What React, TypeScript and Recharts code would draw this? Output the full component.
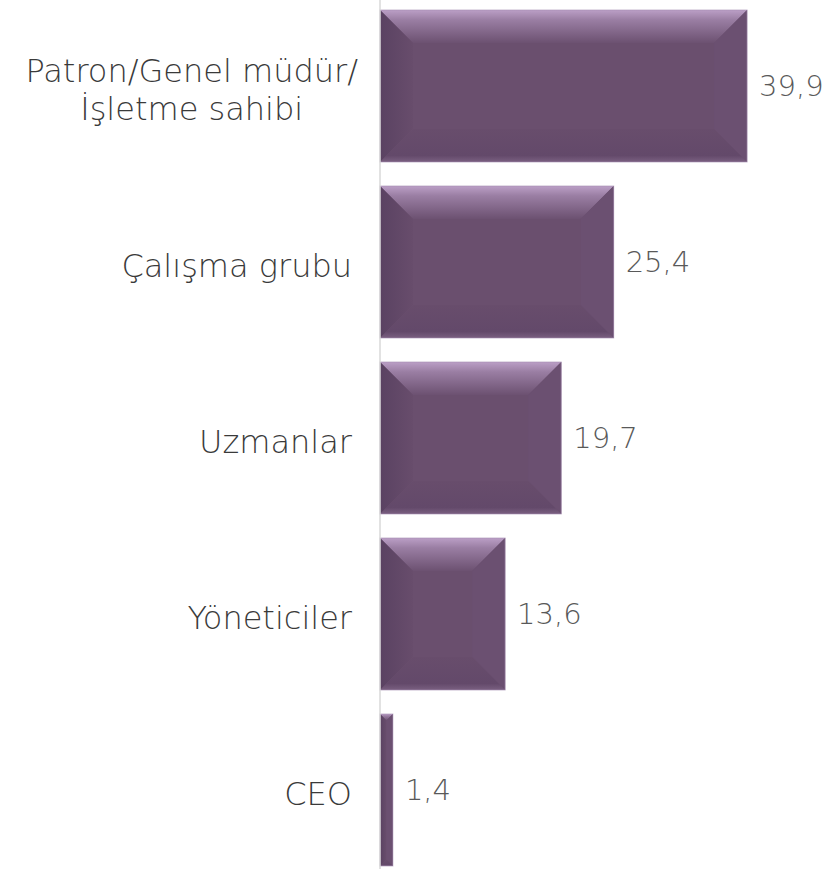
import React from 'react';
import { BarChart, Bar, XAxis, YAxis, LabelList } from 'recharts';

const categories = ['Patron/Genel müdür/\nİşletme sahibi', 'Çalışma grubu', 'Uzmanlar', 'Yöneticiler', 'CEO'];
const values = [39.9, 25.4, 19.7, 13.6, 1.4];

const data = categories.map((name, i) => ({ name, value: values[i] }));

const FONT = '"DejaVu Sans", sans-serif';
const WEIGHT = 200;
const LABEL_SIZE = 32;

let measureCtx: CanvasRenderingContext2D | null = null;
const textWidth = (t: string, size: number) => {
  if (!measureCtx) measureCtx = document.createElement('canvas').getContext('2d');
  if (!measureCtx) return t.length * size * 0.55;
  measureCtx.font = `${WEIGHT} ${size}px ${FONT}`;
  return measureCtx.measureText(t).width;
};

const CategoryTick = (props: any) => {
  const { x, y, payload } = props;
  const lines: string[] = String(payload.value).split('\n');
  const w = Math.max(...lines.map((l) => textWidth(l, LABEL_SIZE)));
  // wrapped labels sit a bit closer to the axis, like the original
  const gap = lines.length > 1 ? 14 : 20;
  const cx = x - gap - w / 2;
  const lh = 38;
  const startY = y + 4 - ((lines.length - 1) * lh) / 2;
  return (
    <text x={cx} y={startY} textAnchor="middle" fill="#3a3a3a" fontSize={LABEL_SIZE} fontFamily={FONT} fontWeight={WEIGHT}>
      {lines.map((l, i) => (
        <tspan key={i} x={cx} y={startY + i * lh} dy="0.35em">
          {l}
        </tspan>
      ))}
    </text>
  );
};

const BevelBar = (props: any) => {
  const { x, y, width: w, height: h } = props;
  if (!w || !h) return null;
  const b = Math.min(33, w / 2, h / 2);
  return (
    <g>
      <rect x={x} y={y} width={w} height={h} fill="#6a4f6e" />
      <polygon
        points={`${x},${y} ${x + w},${y} ${x + w - b},${y + b} ${x + b},${y + b}`}
        fill="url(#bevTop)"
      />
      <polygon
        points={`${x},${y} ${x + b},${y + b} ${x + b},${y + h - b} ${x},${y + h}`}
        fill="url(#bevLeft)"
      />
      <polygon
        points={`${x + w},${y} ${x + w},${y + h} ${x + w - b},${y + h - b} ${x + w - b},${y + b}`}
        fill="#6b5071"
      />
      <polygon
        points={`${x},${y + h} ${x + w},${y + h} ${x + w - b},${y + h - b} ${x + b},${y + h - b}`}
        fill="url(#bevBottom)"
      />
      <rect x={x} y={y} width={w} height={h} fill="none" stroke="#a58cb0" strokeOpacity={0.6} strokeWidth={1} />
    </g>
  );
};

export default function App() {
  return (
    <div style={{ position: 'absolute', left: 0, top: 0, width: 828, height: 869, overflow: 'hidden', background: '#fff' }}>
      <div style={{ position: 'absolute', left: 0, top: -2 }}>
        <BarChart
          width={828}
          height={880}
          data={data}
          layout="vertical"
          margin={{ top: 0, right: 34, bottom: 0, left: 0 }}
          barSize={152}
        >
          <defs>
            <linearGradient id="bevTop" x1="0" y1="0" x2="0" y2="1">
              <stop offset="0" stopColor="#bb9fc6" />
              <stop offset="0.3" stopColor="#9a7ea3" />
              <stop offset="1" stopColor="#6c5171" />
            </linearGradient>
            <linearGradient id="bevLeft" x1="0" y1="0" x2="1" y2="0">
              <stop offset="0" stopColor="#5a4262" />
              <stop offset="1" stopColor="#684d6c" />
            </linearGradient>
            <linearGradient id="bevBottom" x1="0" y1="1" x2="0" y2="0">
              <stop offset="0" stopColor="#7a5f80" />
              <stop offset="0.2" stopColor="#63496a" />
              <stop offset="1" stopColor="#684d6c" />
            </linearGradient>
          </defs>
          <XAxis type="number" domain={[0, 45]} hide />
          <YAxis
            type="category"
            dataKey="name"
            width={380}
            axisLine={{ stroke: '#d9d9d9', strokeWidth: 1.5 }}
            tickLine={false}
            tick={<CategoryTick />}
            interval={0}
          />
          <Bar dataKey="value" shape={<BevelBar />} isAnimationActive={false}>
            <LabelList
              dataKey="value"
              position="right"
              offset={12}
              fill="#595959"
              fontSize={29}
              fontFamily={FONT}
              fontWeight={WEIGHT}
              formatter={(v: any) => String(v).replace('.', ',')}
            />
          </Bar>
        </BarChart>
      </div>
    </div>
  );
}
